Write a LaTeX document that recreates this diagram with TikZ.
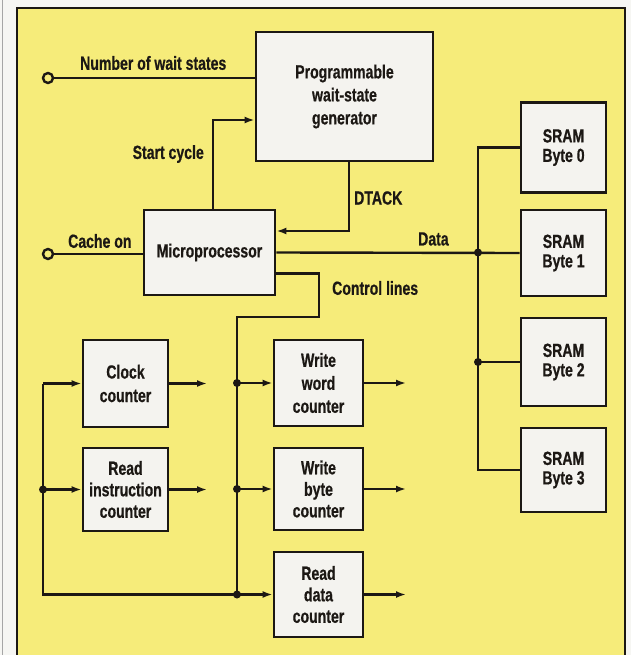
\documentclass[tikz,border=0pt]{standalone}
\usepackage{fontspec}
\newfontfamily\lab{Liberation Sans}[FakeStretch=0.74, FakeBold=0.6]
\usetikzlibrary{arrows.meta}
\definecolor{panel}{RGB}{246,236,122}
\definecolor{boxfill}{RGB}{244,243,239}
\definecolor{ink}{RGB}{28,24,20}
\definecolor{page}{RGB}{246,246,243}
\tikzset{
  x=1pt, y=-1pt,
  blk/.style={draw=ink, line width=2.8pt, fill=boxfill, align=center, inner sep=0pt,
    font=\lab\bfseries\fontsize{19}{21.5}\selectfont, text=ink},
  lbl/.style={font=\lab\bfseries\fontsize{19}{21.5}\selectfont, text=ink, inner sep=0pt},
  wire/.style={draw=ink, line width=2.4pt},
  arr/.style={wire, -{Latex[length=10pt,width=7pt]}},
  term/.style={circle, draw=ink, line width=2.4pt, fill=panel, minimum size=10pt, inner sep=0pt},
  dot/.style={circle, fill=ink, minimum size=8pt, inner sep=0pt},
}
\begin{document}
\begin{tikzpicture}
\useasboundingbox (0,0) rectangle (631,655);
\fill[page] (0,0) rectangle (631,655);
\draw[gray!70, line width=1pt] (2.5,0) -- (2.5,655);
\fill[panel] (17,8) rectangle (625,660);
\draw[ink, line width=2.2pt] (17,660) -- (17,8) -- (625,8) -- (625,660);

% blocks
\node[blk, minimum width=177pt, minimum height=129pt, font=\lab\bfseries\fontsize{19}{23}\selectfont] (gen) at (344.5,96.5) {Programmable\\wait-state\\generator};
\node[blk, minimum width=131pt, minimum height=85pt] (mp) at (209.5,252.5) {Microprocessor};
\node[blk, minimum width=85pt, minimum height=90pt, font=\lab\bfseries\fontsize{19}{19.5}\selectfont] (s0) at (563.5,147.5) {SRAM\\Byte 0};
\node[blk, minimum width=85pt, minimum height=86pt, font=\lab\bfseries\fontsize{19}{19.5}\selectfont] (s1) at (563.5,253) {SRAM\\Byte 1};
\node[blk, minimum width=85pt, minimum height=88pt, font=\lab\bfseries\fontsize{19}{19.5}\selectfont] (s2) at (563.5,362) {SRAM\\Byte 2};
\node[blk, minimum width=85pt, minimum height=84pt, font=\lab\bfseries\fontsize{19}{19.5}\selectfont] (s3) at (563.5,470) {SRAM\\Byte 3};
\node[blk, minimum width=85pt, minimum height=87pt, font=\lab\bfseries\fontsize{19}{23.5}\selectfont] (clk) at (125.5,383.5) {Clock\\counter};
\node[blk, minimum width=85pt, minimum height=83pt] (rin) at (125.5,489.5) {Read\\instruction\\counter};
\node[blk, minimum width=89pt, minimum height=86pt, font=\lab\bfseries\fontsize{19}{23}\selectfont] (ww) at (318.5,383) {Write\\word\\counter};
\node[blk, minimum width=89pt, minimum height=82pt] (wb) at (318.5,489) {Write\\byte\\counter};
\node[blk, minimum width=89pt, minimum height=85pt] (rd) at (318.5,594.5) {Read\\data\\counter};

% terminals
\node[term] (t1) at (48,78) {};
\node[term] (t2) at (48,254) {};

% helper coordinates
\coordinate (dbus) at (478,0);
\coordinate (cbus) at (237,0);
\coordinate (lbus) at (43,0);
\coordinate (oL) at (207,0);
\coordinate (oR) at (406,0);
\coordinate (sc) at (213,120);
\coordinate (ck) at (319,273.5);
\coordinate (cj) at (319,317);

% wait states / cache on
\draw[wire] (t1) -- (t1 -| gen.west);
\draw[wire] (t2) -- (t2 -| mp.west);

% start cycle
\draw[arr] (sc |- mp.north) -- (sc) -- (sc -| gen.west);
% DTACK
\draw[arr] ([xshift=4.5pt]gen.south) |- ([yshift=21.5pt]mp.east);

% data bus
\draw[wire] (mp.east) -- (s1.west);
\draw[wire] (s0.west) -| (dbus |- s3.west) -- (s3.west);
\draw[wire] (dbus |- s2.west) -- (s2.west);
\node[dot] at (dbus |- mp.east) {};
\node[dot] at (dbus |- s2.west) {};

% control lines
\draw[wire] (ck -| mp.east) -- (ck) -- (cj) -- (cj -| cbus) -- (cbus |- rd.west);
\draw[arr] (cbus |- ww.west) -- (ww.west);
\draw[arr] (cbus |- wb.west) -- (wb.west);
\node[dot] at (cbus |- ww.west) {};
\node[dot] at (cbus |- wb.west) {};
\node[dot] at (cbus |- rd.west) {};

% left bus
\draw[arr] (lbus |- clk.west) -- (clk.west);
\draw[arr] (lbus |- clk.west) -- (lbus |- rd.west) -- (rd.west);
\draw[arr] (lbus |- rin.west) -- (rin.west);
\node[dot] at (lbus |- rin.west) {};

% outputs
\draw[arr] (clk.east) -- (clk.east -| oL);
\draw[arr] (rin.east) -- (rin.east -| oL);
\draw[arr] (ww.east) -- (ww.east -| oR);
\draw[arr] (wb.east) -- (wb.east -| oR);
\draw[arr] (rd.east) -- (rd.east -| oR);

% labels
\node[lbl, anchor=west] (lnw) at (80,63) {Number of wait states};
\node[lbl, anchor=east] (lsc) at (204,154) {Start cycle};
\node[lbl, anchor=west] (lco) at (68,241) {Cache on};
\node[lbl, anchor=west] (ldt) at (354,198) {DTACK};
\node[lbl, anchor=west] (lda) at (418,239) {Data};
\node[lbl, anchor=west] (lcl) at (332,288) {Control lines};
\end{tikzpicture}
\end{document}
